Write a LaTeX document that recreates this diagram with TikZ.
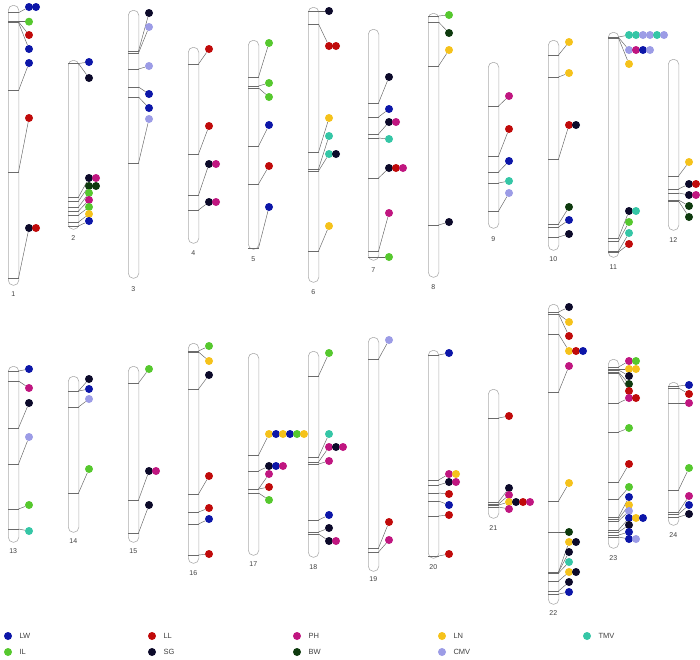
\documentclass[tikz,border=0pt]{standalone}
\usepackage{fontspec}
\setmainfont{Liberation Sans}
\definecolor{LW}{RGB}{12,22,168}
\definecolor{IL}{RGB}{86,200,46}
\definecolor{LL}{RGB}{192,10,10}
\definecolor{SG}{RGB}{12,10,42}
\definecolor{PH}{RGB}{192,22,128}
\definecolor{BW}{RGB}{14,58,14}
\definecolor{LN}{RGB}{245,194,27}
\definecolor{CMV}{RGB}{156,156,230}
\definecolor{TMV}{RGB}{53,198,166}
\newcount\mkc
\newcommand\drawchr[5]{% x, top, bottom, label, label y
  \def\cx{#1}%
  \node[chromo, anchor=north west, minimum width=10.5pt, minimum height={#3pt-#2pt}] (chr#4) at (#1,#2) {};
  \node[lab] (lab#4) at (#1+5.25,#5) {#4};
}
\newcommand\mrk[3]{% tick y, dot y, colour list
  \global\advance\mkc by 1
  \draw[band] (\cx,#1) -- (\cx+10.5,#1);
  \coordinate (t\the\mkc) at (\cx+10.5,#1);
  \foreach[count=\k] \c in {#3} {\node[dot, fill=\c] (d\the\mkc-\k) at (\cx+21+7*\k-7,#2) {};}
  \draw[link] (t\the\mkc) -- (d\the\mkc-1);
}
\tikzset{
  chromo/.style={draw=black!32, fill=white, line width=0.6pt, rounded corners=5pt, inner sep=0pt},
  band/.style={draw=black!58, line width=0.5pt},
  link/.style={draw=black!62, line width=0.45pt},
  dot/.style={circle, inner sep=0pt, minimum size=8pt, draw=none},
  lab/.style={font=\fontsize{7}{8}\selectfont, text=black!75},
  legtext/.style={font=\fontsize{7.5}{9}\selectfont, text=black!75, anchor=west},
  legdot/.style={circle, inner sep=0pt, minimum size=8pt, draw=none}
}
\begin{document}
\begin{tikzpicture}[x=1pt,y=-1pt]
\useasboundingbox (0,0) rectangle (700,659);
% ---- row 1 ----
\drawchr{8}{5}{285}{1}{294}
\mrk{12.7}{7}{LW,LW}
\mrk{21.7}{21.7}{IL}
\mrk{21.7}{35}{LL}
\mrk{22.5}{49}{LW}
\mrk{90.7}{63}{LW}
\mrk{172}{118}{LL}
\mrk{278}{228}{SG,LL}

\drawchr{68}{60}{229}{2}{238}
\mrk{63.5}{62}{LW}
\mrk{63.5}{78}{SG}
\mrk{197}{178}{SG,PH}
\mrk{201}{186}{BW,BW}
\mrk{207}{193}{IL}
\mrk{211}{200}{PH}
\mrk{215}{207}{IL}
\mrk{222}{214}{LN}
\mrk{226}{221}{LW}

\drawchr{128}{10}{278}{3}{289}
\mrk{51}{13}{SG}
\mrk{53}{27}{CMV}
\mrk{69}{66}{CMV}
\mrk{87}{94}{LW}
\mrk{97}{108}{LW}
\mrk{163}{119}{CMV}

\drawchr{188}{47}{243}{4}{253}
\mrk{64}{49}{LL}
\mrk{154}{126}{LL}
\mrk{195}{164}{SG,PH}
\mrk{210}{202}{SG,PH}

\drawchr{248}{40}{249}{5}{259}
\mrk{77}{43}{IL}
\mrk{86}{83}{IL}
\mrk{88}{97}{IL}
\mrk{146}{125}{LW}
\mrk{184}{166}{LL}
\mrk{248}{207}{LW}

\drawchr{308}{7}{282}{6}{292}
\mrk{11}{11}{SG}
\mrk{24}{46}{LL,LL}
\mrk{152}{118}{LN}
\mrk{169}{136}{TMV}
\mrk{171}{154}{TMV,SG}
\mrk{251}{226}{LN}

\drawchr{368}{29}{260}{7}{270}
\mrk{103}{77}{SG}
\mrk{117}{109}{LW}
\mrk{134}{122}{SG,PH}
\mrk{138}{139}{TMV}
\mrk{178}{168}{SG,LL,PH}
\mrk{251}{213}{PH}
\mrk{257}{257}{IL}

\drawchr{428}{13}{277}{8}{287}
\mrk{16}{15}{IL}
\mrk{22}{33}{BW}
\mrk{66}{50}{LN}
\mrk{225}{222}{SG}

\drawchr{488}{62}{228}{9}{239}
\mrk{106}{96}{PH}
\mrk{156}{129}{LL}
\mrk{172}{161}{LW}
\mrk{183}{181}{TMV}
\mrk{211}{193}{CMV}

\drawchr{548}{40}{250}{10}{259}
\mrk{55}{42}{LN}
\mrk{77}{73}{LN}
\mrk{159}{125}{LL,SG}
\mrk{224}{207}{BW}
\mrk{227}{220}{LW}
\mrk{237}{234}{SG}

\drawchr{608}{32}{257}{11}{267}
\mrk{37}{35}{TMV,TMV,CMV,CMV,TMV,CMV}
\mrk{37.5}{50}{CMV,PH,LW,CMV}
\mrk{38}{64}{LN}
\mrk{238}{211}{SG,TMV}
\mrk{241}{222}{IL}
\mrk{251}{233}{TMV}
\mrk{252}{244}{LL}

\drawchr{668}{59}{230}{12}{240}
\mrk{176}{162}{LN}
\mrk{189}{184}{SG,LL}
\mrk{193}{195}{SG,PH}
\mrk{200}{206}{BW}
\mrk{201}{217}{BW}

% ---- row 2 ----
\drawchr{8}{366}{542}{13}{551}
\mrk{371}{369}{LW}
\mrk{381}{388}{PH}
\mrk{428}{403}{SG}
\mrk{464}{437}{CMV}
\mrk{509}{505}{IL}
\mrk{529}{531}{TMV}

\drawchr{68}{376}{532}{14}{541}
\mrk{391}{379}{SG}
\mrk{391}{389}{LW}
\mrk{407}{399}{CMV}
\mrk{493}{469}{IL}

\drawchr{128}{366}{542}{15}{551}
\mrk{383}{369}{IL}
\mrk{500}{471}{SG,PH}
\mrk{533}{505}{SG}

\drawchr{188}{343}{563}{16}{573}
\mrk{351}{346}{IL}
\mrk{352}{361}{LN}
\mrk{389}{375}{SG}
\mrk{494}{476}{LL}
\mrk{512}{508}{LL}
\mrk{524}{519}{LW}
\mrk{555}{554}{LL}

\drawchr{248}{353}{555}{17}{564}
\mrk{455}{434}{LN,LW,LN,LW,IL,LN}
\mrk{471}{466}{SG,LW,PH}
\mrk{489}{474}{PH}
\mrk{489}{487}{LL}
\mrk{493}{500}{IL}

\drawchr{308}{351}{557}{18}{567}
\mrk{376}{353}{IL}
\mrk{457}{434}{TMV}
\mrk{462}{447}{PH,SG,PH}
\mrk{464}{461}{PH}
\mrk{520}{515}{LW}
\mrk{532}{528}{SG}
\mrk{534}{541}{SG,PH}

\drawchr{368}{337}{571}{19}{579}
\mrk{359}{340}{CMV}
\mrk{548}{522}{LL}
\mrk{552}{540}{PH}

\drawchr{428}{350}{558}{20}{567}
\mrk{355}{353}{LW}
\mrk{480}{474}{PH,LN}
\mrk{485}{482}{SG,PH}
\mrk{493}{494}{LL}
\mrk{501}{505}{LW}
\mrk{516}{515}{LL}
\mrk{556}{554}{LL}

\drawchr{488}{389}{518}{21}{528}
\mrk{418}{416}{LL}
\mrk{502}{488}{SG}
\mrk{504}{495}{PH}
\mrk{505}{502}{LN,SG,LL,PH}
\mrk{507}{509}{PH}

\drawchr{548}{304}{604}{22}{613}
\mrk{312}{307}{SG}
\mrk{314}{322}{LN}
\mrk{314}{336}{LL}
\mrk{334}{351}{LN,LL,LW}
\mrk{392}{366}{PH}
\mrk{501}{483}{LN}
\mrk{532}{532}{BW}
\mrk{572}{542}{LN,SG}
\mrk{572}{552}{SG}
\mrk{573}{562}{TMV}
\mrk{581}{572}{LN,SG}
\mrk{591}{582}{SG}
\mrk{594}{592}{LW}

\drawchr{608}{359}{548}{23}{558}
\mrk{367}{361}{PH,IL}
\mrk{369}{369}{LN,LN}
\mrk{370}{376}{SG}
\mrk{372}{384}{BW}
\mrk{373}{391}{LL}
\mrk{403}{398}{PH,LL}
\mrk{432}{428}{IL}
\mrk{482}{464}{LL}
\mrk{499}{487}{IL}
\mrk{517}{497}{LW}
\mrk{519}{505}{LN}
\mrk{521}{511}{CMV}
\mrk{530}{518}{LW,LN,LW}
\mrk{532}{525}{SG}
\mrk{535}{532}{LW}
\mrk{537}{539}{LW,CMV}

\drawchr{668}{382}{525}{24}{535}
\mrk{386}{385}{LW}
\mrk{388}{394}{LL}
\mrk{403}{403}{PH}
\mrk{490}{468}{IL}
\mrk{512}{496}{PH}
\mrk{514}{505}{LW}
\mrk{517}{514}{SG}

% ---- legend ----
\foreach \col/\xx/\yy in {LW/8/636, LL/152/636, PH/297/636, LN/442/636, TMV/587/636,
                           IL/8/652, SG/152/652, BW/297/652, CMV/442/652} {
  \node[legdot, fill=\col] (leg\col) at (\xx,\yy) {};
  \node[legtext] (legt\col) at (\xx+8,\yy) {\col};
}
\end{tikzpicture}
\end{document}
